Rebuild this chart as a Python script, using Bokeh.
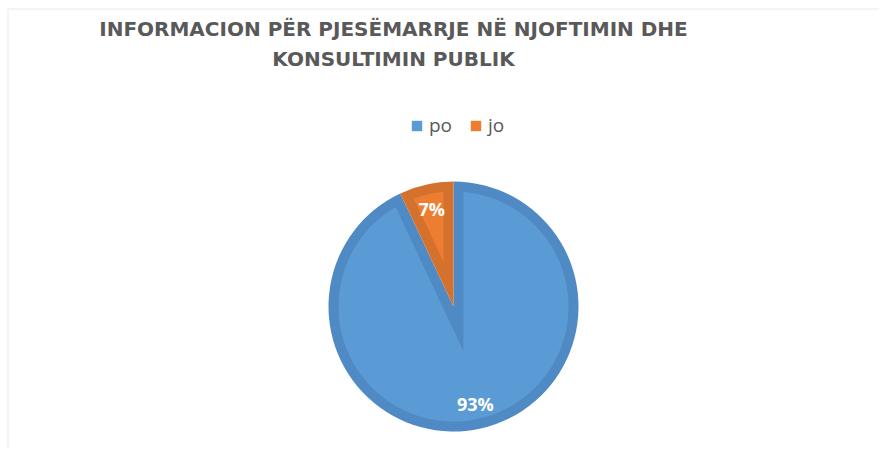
import numpy as np
from bokeh.plotting import figure
from bokeh.models import Range1d, Legend, LegendItem, BoxAnnotation, ColumnDataSource
from bokeh.core.properties import value
from bokeh.embed import file_html
from bokeh.resources import INLINE

# ---- data ----
categories = ["po", "jo"]
values = [93, 7]
pct_labels = ["93%", "7%"]
light_colors = ["#5B9BD5", "#ED7D31"]
dark_colors = ["#4F8AC4", "#D4712C"]
title_lines = ["INFORMACION PËR PJESËMARRJE NË NJOFTIMIN DHE", "KONSULTIMIN PUBLIK"]

# ---- layout ----
W, H = 879, 449
CX, CY, R = 453, 143, 125
INSET = 10

p = figure(width=W, height=H, x_range=Range1d(0, W), y_range=Range1d(0, H),
           output_backend="svg", toolbar_location=None, min_border=0)
p.axis.visible = False
p.grid.visible = False
p.outline_line_color = None
p.background_fill_color = "white"
p.border_fill_color = "white"

vals = np.array(values, dtype=float)
frac = vals / vals.sum()
cum = np.concatenate([[0], np.cumsum(frac)])
# Excel style: first slice starts at 12 o'clock and goes clockwise
start_cw = np.pi / 2 - 2 * np.pi * cum[:-1]
end_cw = np.pi / 2 - 2 * np.pi * cum[1:]
A = end_cw          # ccw start
B = start_cw        # ccw end


def inner_shape(A, B):
    alpha = (B - A) / 2
    m = (A + B) / 2
    d = INSET / np.sin(alpha)
    q = np.array([d * np.cos(m), d * np.sin(m)])
    Rp = R - INSET

    def hit(ang):
        u = np.array([np.cos(ang), np.sin(ang)])
        qu = q @ u
        t = -qu + np.sqrt(qu * qu - q @ q + Rp * Rp)
        pt = q + t * u
        phi = np.arctan2(pt[1], pt[0])
        return ang + ((phi - ang + np.pi) % (2 * np.pi) - np.pi)

    phi1 = hit(A)
    phi2 = hit(B)
    arc = np.linspace(phi1, phi2, 200)
    xs = [CX + q[0]] + list(CX + Rp * np.cos(arc))
    ys = [CY + q[1]] + list(CY + Rp * np.sin(arc))
    return xs, ys


src = ColumnDataSource(dict(start=A, end=B, dark=dark_colors, light=light_colors,
                            cat=categories))
p.wedge(x=CX, y=CY, radius=R, start_angle="start", end_angle="end",
        direction="anticlock", fill_color="dark", line_color=None, source=src)

xs, ys = [], []
for a, b in zip(A, B):
    sx, sy = inner_shape(a, b)
    xs.append(sx)
    ys.append(sy)
r_in = p.patches(xs=xs, ys=ys, fill_color=light_colors, line_color=None)

# percentage labels
mid = (A + B) / 2
lab_r = 0.8 * R
p.text(x=CX + lab_r * np.cos(mid), y=CY + lab_r * np.sin(mid), text=pct_labels,
       text_color="white", text_font=value("Open Sans"), text_font_style="bold",
       text_font_size="18px", text_align="center", text_baseline="middle")

# title
p.text(x=[393, 393], y=[421, 391], text=title_lines, text_color="#595959",
       text_font=value("DejaVu Sans"), text_font_style="bold", text_font_size="20px",
       text_align="center", text_baseline="middle")

legend = Legend(items=[LegendItem(label=c, renderers=[r_in], index=i)
                       for i, c in enumerate(categories)],
                orientation="horizontal", location=(410, 311), padding=0, margin=0,
                spacing=17, label_standoff=6, glyph_width=13, glyph_height=13,
                label_text_font="Open Sans", label_text_font_size="19px",
                label_text_color="#595959", border_line_color=None,
                background_fill_alpha=0)
p.add_layout(legend)

p.add_layout(BoxAnnotation(left=7.5, right=W + 20, top=H - 8.5, bottom=-20,
                           fill_alpha=0, line_color="#d9d9d9", line_width=2))

open("out.html", "w").write(file_html(p, INLINE))
